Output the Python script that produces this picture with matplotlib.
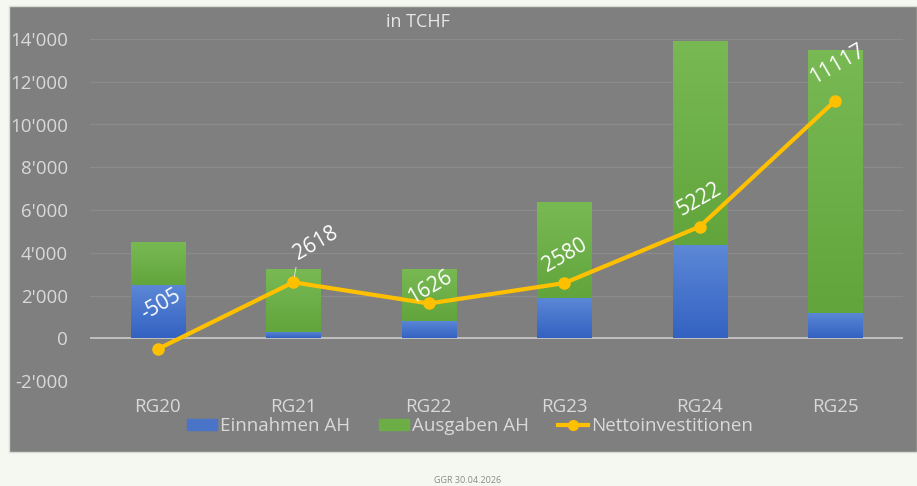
import matplotlib
matplotlib.use("Agg")
import matplotlib.pyplot as plt
from matplotlib.patches import Rectangle, Patch
from matplotlib.lines import Line2D
from matplotlib.colors import LinearSegmentedColormap
from matplotlib.ticker import FuncFormatter
import numpy as np

plt.rcParams['font.family'] = ['Open Sans', 'DejaVu Sans']

categories = ['RG20', 'RG21', 'RG22', 'RG23', 'RG24', 'RG25']
einnahmen = [2510, 300, 810, 1890, 4350, 1190]
ausgaben = [2005, 2918, 2436, 4470, 9572, 12307]
netto = [-505, 2618, 1626, 2580, 5222, 11117]
yticks = [-2000, 0, 2000, 4000, 6000, 8000, 10000, 12000, 14000]

W, H = 917, 486
fig = plt.figure(figsize=(W / 100, H / 100), dpi=100, facecolor='#f4f8f0')

# grey chart panel
fig.patches.append(Rectangle((9 / W, 1 - 452 / H), 1 - 9 / W, (452 - 6) / H,
                             transform=fig.transFigure, facecolor='#7f7f7f',
                             edgecolor='#d8dcd4', lw=1, zorder=-10))

ax = fig.add_axes([90 / W, 1 - 381 / H, (903 - 90) / W, (381 - 39) / H])
ax.set_facecolor('none')
ax.set_zorder(2)

blue_cm = LinearSegmentedColormap.from_list('b', ['#3462c2', '#5c88d6'])
green_cm = LinearSegmentedColormap.from_list('g', ['#62a53c', '#78b954'])
grad = np.linspace(0, 1, 64).reshape(-1, 1)


def gradient_bars(bars, cmap):
    for b in bars:
        x0, y0 = b.get_x(), b.get_y()
        w, h = b.get_width(), b.get_height()
        b.set_facecolor('none')
        im = ax.imshow(grad, cmap=cmap, origin='lower', aspect='auto',
                       extent=(x0, x0 + w, y0, y0 + h), zorder=3)
        im.set_clip_path(b)


x = np.arange(len(categories))
bw = 0.4
b1 = ax.bar(x, einnahmen, bw, color='#4a74c8', zorder=3, lw=0)
b2 = ax.bar(x, ausgaben, bw, bottom=einnahmen, color='#6cad46', zorder=3, lw=0)
gradient_bars(b1, blue_cm)
gradient_bars(b2, green_cm)
ax.plot(x, netto, color='#ffc000', lw=3, marker='o', ms=8, zorder=5)

# data labels (offsets in pixels)
offsets = [(3, 44), (23, 39), (1, 16), (1, 28), (0, 27), (2, 36)]
for i, v in enumerate(netto):
    dx, dy = offsets[i]
    arrow = None
    if i == 1:
        arrow = dict(arrowstyle='-', color='#e8e8e8', lw=0.6, shrinkA=0, shrinkB=4,
                     relpos=(0.15, 0.2))
    ax.annotate(str(v), (x[i], v), xytext=(dx, dy), textcoords='offset pixels',
                ha='center', va='center', rotation=30, color='white',
                fontsize=15, zorder=6, arrowprops=arrow)

ax.set_xlim(-0.5, len(categories) - 0.5)
ax.set_ylim(-2000, 14000)
ax.set_yticks(yticks)
ax.yaxis.set_major_formatter(FuncFormatter(lambda v, p: f"{int(v):,}".replace(',', "'")))
ax.set_xticks(x)
ax.set_xticklabels(categories)
ax.tick_params(length=0, colors='#d9d9d9', labelsize=13.5)
ax.tick_params(axis='x', pad=12)
ax.tick_params(axis='y', pad=16)
for s in ax.spines.values():
    s.set_visible(False)
ax.grid(axis='y', color='#8b8b8b', lw=0.9, zorder=1)
ax.axhline(0, color='#c4c4c4', lw=1.3, zorder=2)

fig.text(418 / W, 1 - 22 / H, 'in TCHF', ha='center', va='center',
         color='#e6e6e6', fontsize=13)

handles = [Patch(color='#4a74c8'), Patch(color='#6cad46'),
           Line2D([], [], color='#ffc000', lw=3, marker='o', ms=7)]
labels = ['Einnahmen AH', 'Ausgaben AH', 'Nettoinvestitionen']
fig.legend(handles, labels, loc='center', bbox_to_anchor=(470 / W, 1 - 426 / H),
           ncol=3, frameon=False, fontsize=13.5, labelcolor='#d9d9d9',
           handlelength=1.6, handleheight=0.5, handletextpad=0.2, columnspacing=1.5)

fig.text(468 / W, 1 - 480 / H, 'GGR 30.04.2026', ha='center', va='center',
         color='#8a8a8a', fontsize=6.5)

fig.savefig('out.png', dpi=100, facecolor=fig.get_facecolor())
